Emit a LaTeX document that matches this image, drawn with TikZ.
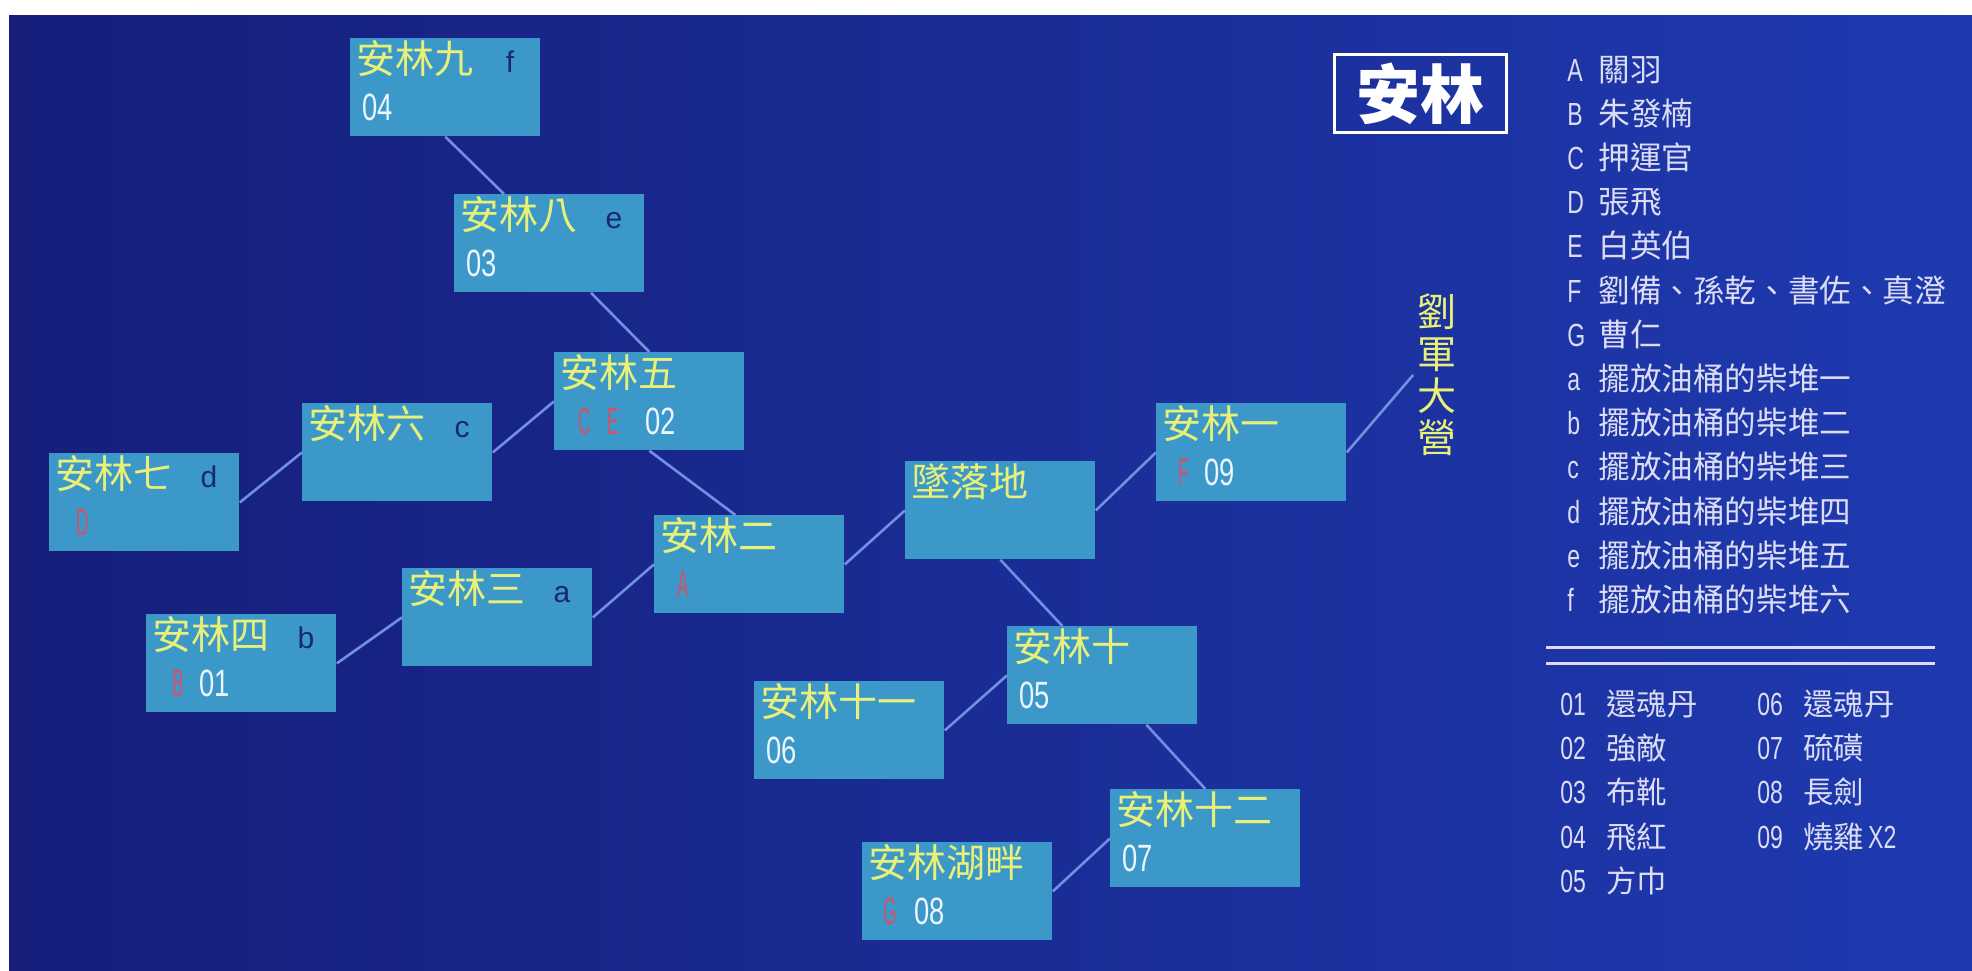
\documentclass[tikz,border=0pt]{standalone}
\usepackage{fontspec}
\usepackage{xcolor}
\usepackage{tikz}
\usetikzlibrary{calc,positioning}
\setmainfont{Noto Sans CJK TC}
\newfontfamily\cjk{Noto Sans CJK TC}
\newfontfamily\latina{Liberation Sans}
\newfontfamily\estrecha[FakeStretch=0.72]{Liberation Sans}
\newfontfamily\muyestrecha[FakeStretch=0.45]{Liberation Sans}
\definecolor{fondoizq}{RGB}{22,30,122}
\definecolor{fondoder}{RGB}{30,58,176}
\definecolor{azulcaja}{RGB}{59,152,201}
\definecolor{amarillo}{RGB}{232,240,120}
\definecolor{azulletra}{RGB}{26,40,112}
\definecolor{rojoletra}{RGB}{214,80,104}
\definecolor{blanconumero}{RGB}{236,246,255}
\definecolor{azullinea}{RGB}{112,144,224}
\definecolor{lila}{RGB}{220,220,244}
\newcommand{\rojo}[1]{{\color{rojoletra}\muyestrecha #1}}
\newcommand{\clave}[1]{\makebox[15.5pt][l]{\estrecha\fontsize{16pt}{16pt}\selectfont #1}}
\newcommand{\cifra}[1]{\makebox[23pt][l]{\estrecha\fontsize{16pt}{16pt}\selectfont #1}}

\begin{document}
\begin{tikzpicture}[x=0.5pt, y=-0.5pt,
    caja/.style={rectangle, fill=azulcaja, anchor=north west, inner sep=0pt,
                 minimum width=95pt, minimum height=49pt},
    nombre/.style={anchor=base west, xshift=3pt, yshift=-17.5pt, inner sep=0pt,
                   text=amarillo, font=\cjk\fontsize{19.5pt}{20pt}\selectfont},
    pila/.style={anchor=base, xshift=80pt, yshift=-17pt, inner sep=0pt,
                 text=azulletra, font=\latina\fontsize{15pt}{15pt}\selectfont},
    objeto/.style={anchor=base west, xshift=6pt, yshift=-41pt, inner sep=0pt,
                   text=blanconumero, font=\estrecha\fontsize{19pt}{19pt}\selectfont},
    titulo/.style={anchor=north west, draw=white, line width=1.5pt, inner sep=0pt,
                   minimum width=86pt, minimum height=39pt, text=white,
                   font=\cjk\bfseries\fontsize{32pt}{32pt}\selectfont},
    campamento/.style={align=center, inner sep=2pt, text=amarillo,
                       font=\cjk\fontsize{19.5pt}{21pt}\selectfont},
    leyenda/.style={anchor=base west, inner sep=0pt, align=left, text=lila,
                    font=\cjk\fontsize{15.8pt}{22.1pt}\selectfont},
    linea/.style={draw=azullinea, line width=1.3pt},
    doble/.style={draw=lila, line width=1.5pt}
  ]
    \fill[white] (0,0) rectangle (1972,970);
    \useasboundingbox (0,0) rectangle (1972,970);
    \shade[left color=fondoizq, right color=fondoder] (9,15) rectangle (1972,970);

    % lugares
    \node[caja, label={[nombre]north west:安林九}, label={[pila]north west:f},
          label={[objeto]north west:04}] (anlin9) at (350,38) {};
    \node[caja, label={[nombre]north west:安林八}, label={[pila]north west:e},
          label={[objeto]north west:03}] (anlin8) at (454,194) {};
    \node[caja, label={[nombre]north west:安林五},
          label={[objeto]north west:\hspace{6pt}\makebox[14.5pt][l]{\rojo{C}}\makebox[19pt][l]{\rojo{E}}02}] (anlin5) at (554,352) {};
    \node[caja, label={[nombre]north west:安林六}, label={[pila]north west:c}] (anlin6) at (302,403) {};
    \node[caja, label={[nombre]north west:安林七}, label={[pila]north west:d},
          label={[objeto]north west:\hspace{7.5pt}\rojo{D}}] (anlin7) at (49,453) {};
    \node[caja, label={[nombre]north west:安林二},
          label={[objeto]north west:\hspace{5.5pt}\rojo{A}}] (anlin2) at (654,515) {};
    \node[caja, label={[nombre]north west:安林三}, label={[pila]north west:a}] (anlin3) at (402,568) {};
    \node[caja, label={[nombre]north west:安林四}, label={[pila]north west:b},
          label={[objeto]north west:\hspace{7pt}\makebox[13.5pt][l]{\rojo{B}}01}] (anlin4) at (146,614) {};
    \node[caja, label={[nombre]north west:墜落地}] (zhuiluo) at (905,461) {};
    \node[caja, label={[nombre]north west:安林一},
          label={[objeto]north west:\hspace{5pt}\makebox[13pt][l]{\rojo{F}}09}] (anlin1) at (1156,403) {};
    \node[caja, label={[nombre]north west:安林十},
          label={[objeto]north west:05}] (anlin10) at (1007,626) {};
    \node[caja, label={[nombre]north west:安林十一},
          label={[objeto]north west:06}] (anlin11) at (754,681) {};
    \node[caja, label={[nombre]north west:安林十二},
          label={[objeto]north west:07}] (anlin12) at (1110,789) {};
    \node[caja, label={[nombre]north west:安林湖畔},
          label={[objeto]north west:\hspace{4.5pt}\makebox[15.5pt][l]{\rojo{G}}08}] (hupan) at (862,842) {};
    \node[campamento] (liujun) at (1437,375) {劉\\軍\\大\\營};

    % caminos
    \draw[linea] (anlin9.south) -- ($(anlin8.north west)+(50,0)$);
    \draw[linea] ($(anlin8.south west)+(137,0)$) -- (anlin5.north);
    \draw[linea] (anlin7.east) -- (anlin6.west);
    \draw[linea] (anlin6.east) -- (anlin5.west);
    \draw[linea] (anlin5.south) -- ($(anlin2.north)+(-14,0)$);
    \draw[linea] (anlin4.east) -- (anlin3.west);
    \draw[linea] (anlin3.east) -- (anlin2.west);
    \draw[linea] (anlin2.east) -- (zhuiluo.west);
    \draw[linea] (zhuiluo.east) -- (anlin1.west);
    \draw[linea] (anlin1.east) -- (liujun.west);
    \draw[linea] (zhuiluo.south) -- ($(anlin10.north)+(-40,0)$);
    \draw[linea] (anlin11.east) -- (anlin10.west);
    \draw[linea] ($(anlin10.south)+(44,0)$) -- (anlin12.north);
    \draw[linea] (hupan.east) -- (anlin12.west);

    % leyenda
    \node[titulo] (titulo) at (1333,53) {安林};
    \node[leyenda, text width=200pt] (personajes) at (1567,81)
      {\clave{A}關羽\\\clave{B}朱發楠\\\clave{C}押運官\\\clave{D}張飛\\\clave{E}白英伯\\
       \clave{F}劉備、孫乾、書佐、真澄\\\clave{G}曹仁\\\clave{a}擺放油桶的柴堆一\\
       \clave{b}擺放油桶的柴堆二\\\clave{c}擺放油桶的柴堆三\\\clave{d}擺放油桶的柴堆四\\
       \clave{e}擺放油桶的柴堆五\\\clave{f}擺放油桶的柴堆六};
    \draw[doble] (1546,647) -- (1935,647);
    \draw[doble] (1546,663) -- (1935,663);
    \node[leyenda, text width=90pt, font=\cjk\fontsize{15.2pt}{22.2pt}\selectfont] (objetos1) at (1560,715)
      {\cifra{01}還魂丹\\\cifra{02}強敵\\\cifra{03}布靴\\\cifra{04}飛紅\\\cifra{05}方巾};
    \node[leyenda, text width=90pt, font=\cjk\fontsize{15.2pt}{22.2pt}\selectfont] (objetos2) at (1757,715)
      {\cifra{06}還魂丹\\\cifra{07}硫磺\\\cifra{08}長劍\\
       \cifra{09}燒雞\hspace{2pt}{\estrecha\fontsize{16pt}{16pt}\selectfont X2}};
  \end{tikzpicture}
\end{document}
